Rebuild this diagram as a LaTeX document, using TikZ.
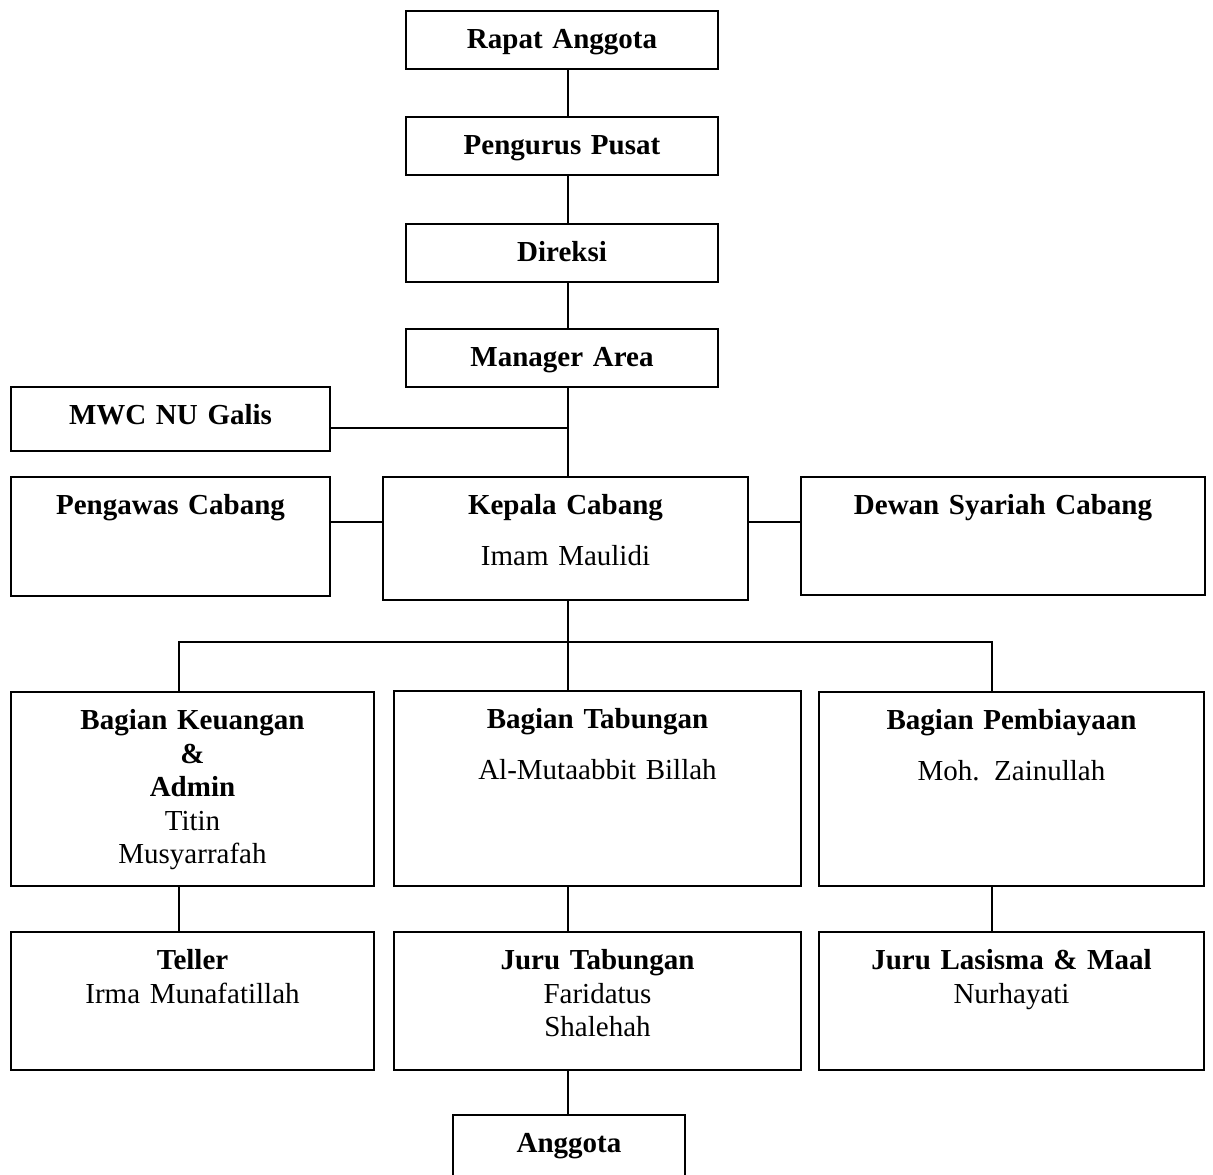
\documentclass[tikz,border=0pt]{standalone}
\usepackage{fontspec}
\setmainfont{Liberation Serif}
\usepackage{tikz}
\usetikzlibrary{positioning}

\begin{document}
\begin{tikzpicture}[
    x=0.5pt, y=-0.5pt,
    unitbox/.style={draw, line width=1pt, anchor=north west, align=center, inner sep=0pt,
        text height=18.75pt, font=\fontsize{14.5pt}{16.8pt}\selectfont},
    boxsize/.style 2 args={text width=#1, text depth=#2},
    link/.style={line width=0.8pt}
]
\useasboundingbox (0,0) rectangle (1213,1174);

% Top of the chart
\node[unitbox, boxsize={156pt}{10.25pt}] (rapat) at (405,10) {\textbf{Rapat Anggota}};
\node[unitbox, boxsize={156pt}{10.25pt}] (pengurus) at (405,116) {\textbf{Pengurus Pusat}};
\node[unitbox, boxsize={156pt}{10.25pt}] (direksi) at (405,223) {\textbf{Direksi}};
\node[unitbox, boxsize={156pt}{10.25pt}] (manager) at (405,328) {\textbf{Manager Area}};

% Branch level
\node[unitbox, boxsize={159.5pt}{13.25pt}] (mwc) at (10,386) {\textbf{MWC NU Galis}};
\node[unitbox, boxsize={159.5pt}{40.75pt}] (pengawas) at (10,476) {\textbf{Pengawas Cabang}};
\node[unitbox, boxsize={182.5pt}{42.75pt}] (kepala) at (382,476) {\textbf{Kepala Cabang}\\[8.5pt] Imam Maulidi};
\node[unitbox, boxsize={202pt}{40.25pt}] (dewan) at (800,476) {\textbf{Dewan Syariah Cabang}};

% Sections
\node[unitbox, boxsize={181.5pt}{78.25pt}] (keuangan) at (10,691) {\textbf{Bagian Keuangan}\\\textbf{\&}\\\textbf{Admin}\\Titin\\Musyarrafah};
\node[unitbox, boxsize={203.5pt}{78.75pt}] (tabungan) at (393,690) {\textbf{Bagian Tabungan}\\[8.5pt] Al-Mutaabbit Billah};
\node[unitbox, boxsize={192.5pt}{78.25pt}] (pembiayaan) at (818,691) {\textbf{Bagian Pembiayaan}\\[8.5pt] Moh. Zainullah};

% Staff
\node[unitbox, boxsize={181.5pt}{50.25pt}] (teller) at (10,931) {\textbf{Teller}\\Irma Munafatillah};
\node[unitbox, boxsize={203.5pt}{50.25pt}] (jurutab) at (393,931) {\textbf{Juru Tabungan}\\Faridatus\\Shalehah};
\node[unitbox, boxsize={192.5pt}{50.25pt}] (jurulas) at (818,931) {\textbf{Juru Lasisma \& Maal}\\Nurhayati};
\node[unitbox, boxsize={116pt}{31.25pt}] (anggota) at (452,1114) {\textbf{Anggota}};

% Lines
\coordinate (spine) at (568,0);
\coordinate (side) at (0,522);
\coordinate (busL) at (179,642);
\coordinate (busR) at (992,642);

\draw[link] (rapat.south -| spine) -- (pengurus.north -| spine);
\draw[link] (pengurus.south -| spine) -- (direksi.north -| spine);
\draw[link] (direksi.south -| spine) -- (manager.north -| spine);
\draw[link] (manager.south -| spine) -- (kepala.north -| spine);
\draw[link] ([yshift=-4.5pt]mwc.east) -- ([yshift=-4.5pt]mwc.east -| spine);
\draw[link] (pengawas.east |- side) -- (kepala.west |- side);
\draw[link] (kepala.east |- side) -- (dewan.west |- side);
\draw[link] (kepala.south -| spine) -- (tabungan.north -| spine);
\draw[link] (keuangan.north -| busL) -- (busL) -- (busR) -- (pembiayaan.north -| busR);
\draw[link] (keuangan.south -| busL) -- (teller.north -| busL);
\draw[link] (tabungan.south -| spine) -- (jurutab.north -| spine);
\draw[link] (pembiayaan.south -| busR) -- (jurulas.north -| busR);
\draw[link] (jurutab.south -| spine) -- (anggota.north -| spine);

\end{tikzpicture}
\end{document}
